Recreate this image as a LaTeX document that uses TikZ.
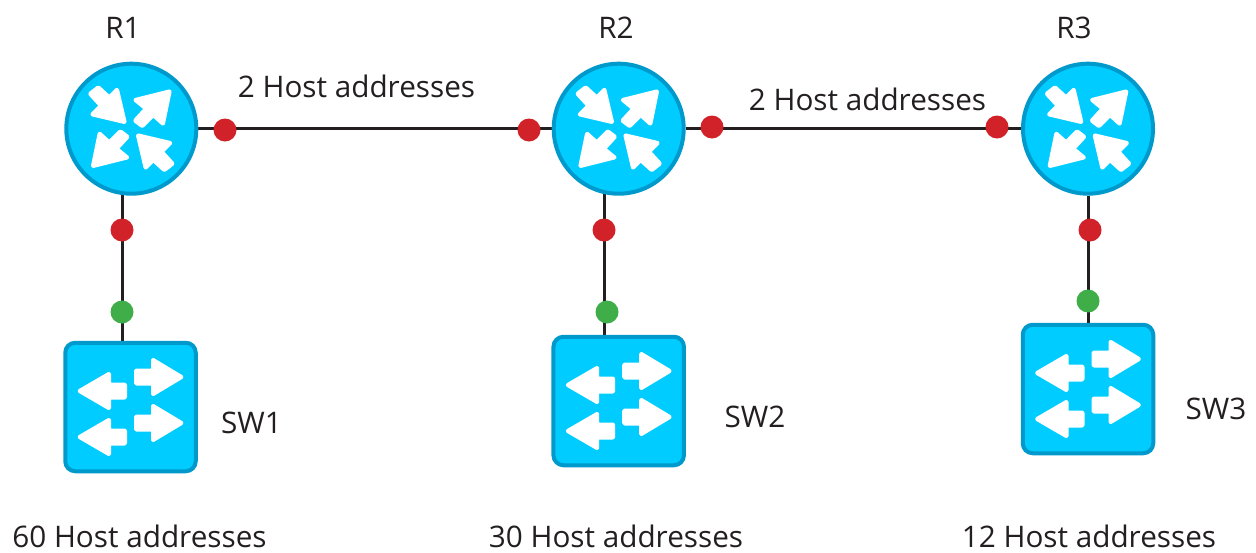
\documentclass[tikz,border=0pt]{standalone}
\usepackage{fontspec}
\setmainfont{Open Sans}
\usetikzlibrary{backgrounds}
\definecolor{devfill}{HTML}{00CCFF}
\definecolor{devedge}{HTML}{0099CC}
\definecolor{dotred}{HTML}{D12229}
\definecolor{dotgreen}{HTML}{3FAE49}
\definecolor{linkcol}{HTML}{231F20}
\tikzset{
  x=1pt, y=-1pt,
  router/.style={circle, draw=devedge, fill=devfill, line width=4pt, minimum size=130pt, inner sep=0pt},
  switch/.style={rectangle, rounded corners=10pt, draw=devedge, fill=devfill, line width=4pt, minimum width=130.5pt, minimum height=128.5pt, inner sep=0pt},
  reddot/.style={circle, fill=dotred, minimum size=23pt, inner sep=0pt},
  greendot/.style={circle, fill=dotgreen, minimum size=23pt, inner sep=0pt},
  link/.style={draw=linkcol, line width=3pt},
  lbl/.style={inner sep=0pt, text=linkcol, font=\fontsize{29.7}{34}\selectfont},
  arrowfill/.style={fill=white, draw=white, line width=3pt, line join=round, rounded corners=1pt},
}
\newcommand{\routerarrows}[1]{
  \foreach \r in {0,180} {
    % out arrow
    \fill[arrowfill, shift={(#1)}, rotate=\r] (39,-38) -- (32,-4) -- (22,-13) -- (11,-2) -- (3,-8) -- (14,-20) -- (3,-29) -- cycle;
    % in arrow
    \fill[arrowfill, shift={(#1)}, rotate=\r] (-6,-6) -- (-14,-40) -- (-22,-32) -- (-33,-42) -- (-42,-35) -- (-31,-23) -- (-40,-14) -- cycle;
  }
}
\newcommand{\switcharrows}[1]{
  \foreach \d in {0,46} {
    % right arrow
    \fill[arrowfill, shift={(#1)}] (52,-30+\d) -- (22,-48+\d) -- (22,-37+\d) -- (5,-37+\d) -- (5,-23+\d) -- (22,-23+\d) -- (22,-12+\d) -- cycle;
    % left arrow
    \fill[arrowfill, shift={(#1)}] (-52,-16+\d) -- (-21,2+\d) -- (-21,-9+\d) -- (-5,-9+\d) -- (-5,-23+\d) -- (-21,-23+\d) -- (-21,-34+\d) -- cycle;
  }
}
\begin{document}
\begin{tikzpicture}
  \useasboundingbox (0,0) rectangle (1256,552);

  % Routers and switches
  \foreach \name/\x/\y in {r1/131.3/128.7, r2/618.7/128.7, r3/1088/128.7} {
    \node[router] (\name) at (\x,\y) {};
    \routerarrows{\name}
  }
  \foreach \name/\x/\y in {sw1/130.5/407, sw2/618.7/401, sw3/1088/389} {
    \node[switch] (\name) at (\x,\y) {};
    \switcharrows{\name}
  }

  % Red and green points
  \node[reddot] (p12a) at (225,130) {};
  \node[reddot] (p12b) at (529,130) {};
  \node[reddot] (p23a) at (712,127) {};
  \node[reddot] (p23b) at (997,127) {};
  \foreach \name/\x/\y in {d1/122/230, d2/604/230, d3/1090/230} {
    \node[reddot] (\name) at (\x,\y) {};
  }
  \foreach \name/\x/\y in {g1/122/312, g2/607/312, g3/1088/301} {
    \node[greendot] (\name) at (\x,\y) {};
  }

  % Links
  \begin{scope}[on background layer]
    \draw[link] (r1) -- (r2);
    \draw[link] (r2) -- (r3);
    \draw[link] (d1 |- r1) -- (d1 |- sw1);
    \draw[link] (d2 |- r2) -- (d2 |- sw2);
    \draw[link] (r3) -- (sw3);
  \end{scope}

  % Labels
  \foreach \name/\x/\y/\txt in {l1/123/28/R1, l2/616/28/R2, l3/1074/28/R3,
      l4/356.5/86/2 Host addresses, l5/867.5/99/2 Host addresses,
      l6/251.5/423/SW1, l7/755/417/SW2, l8/1216/409/SW3,
      l9/139.5/536/60 Host addresses, l10/616/536/30 Host addresses, l11/1089/536/12 Host addresses} {
    \node[lbl] (\name) at (\x,\y) {\txt};
  }
\end{tikzpicture}
\end{document}
